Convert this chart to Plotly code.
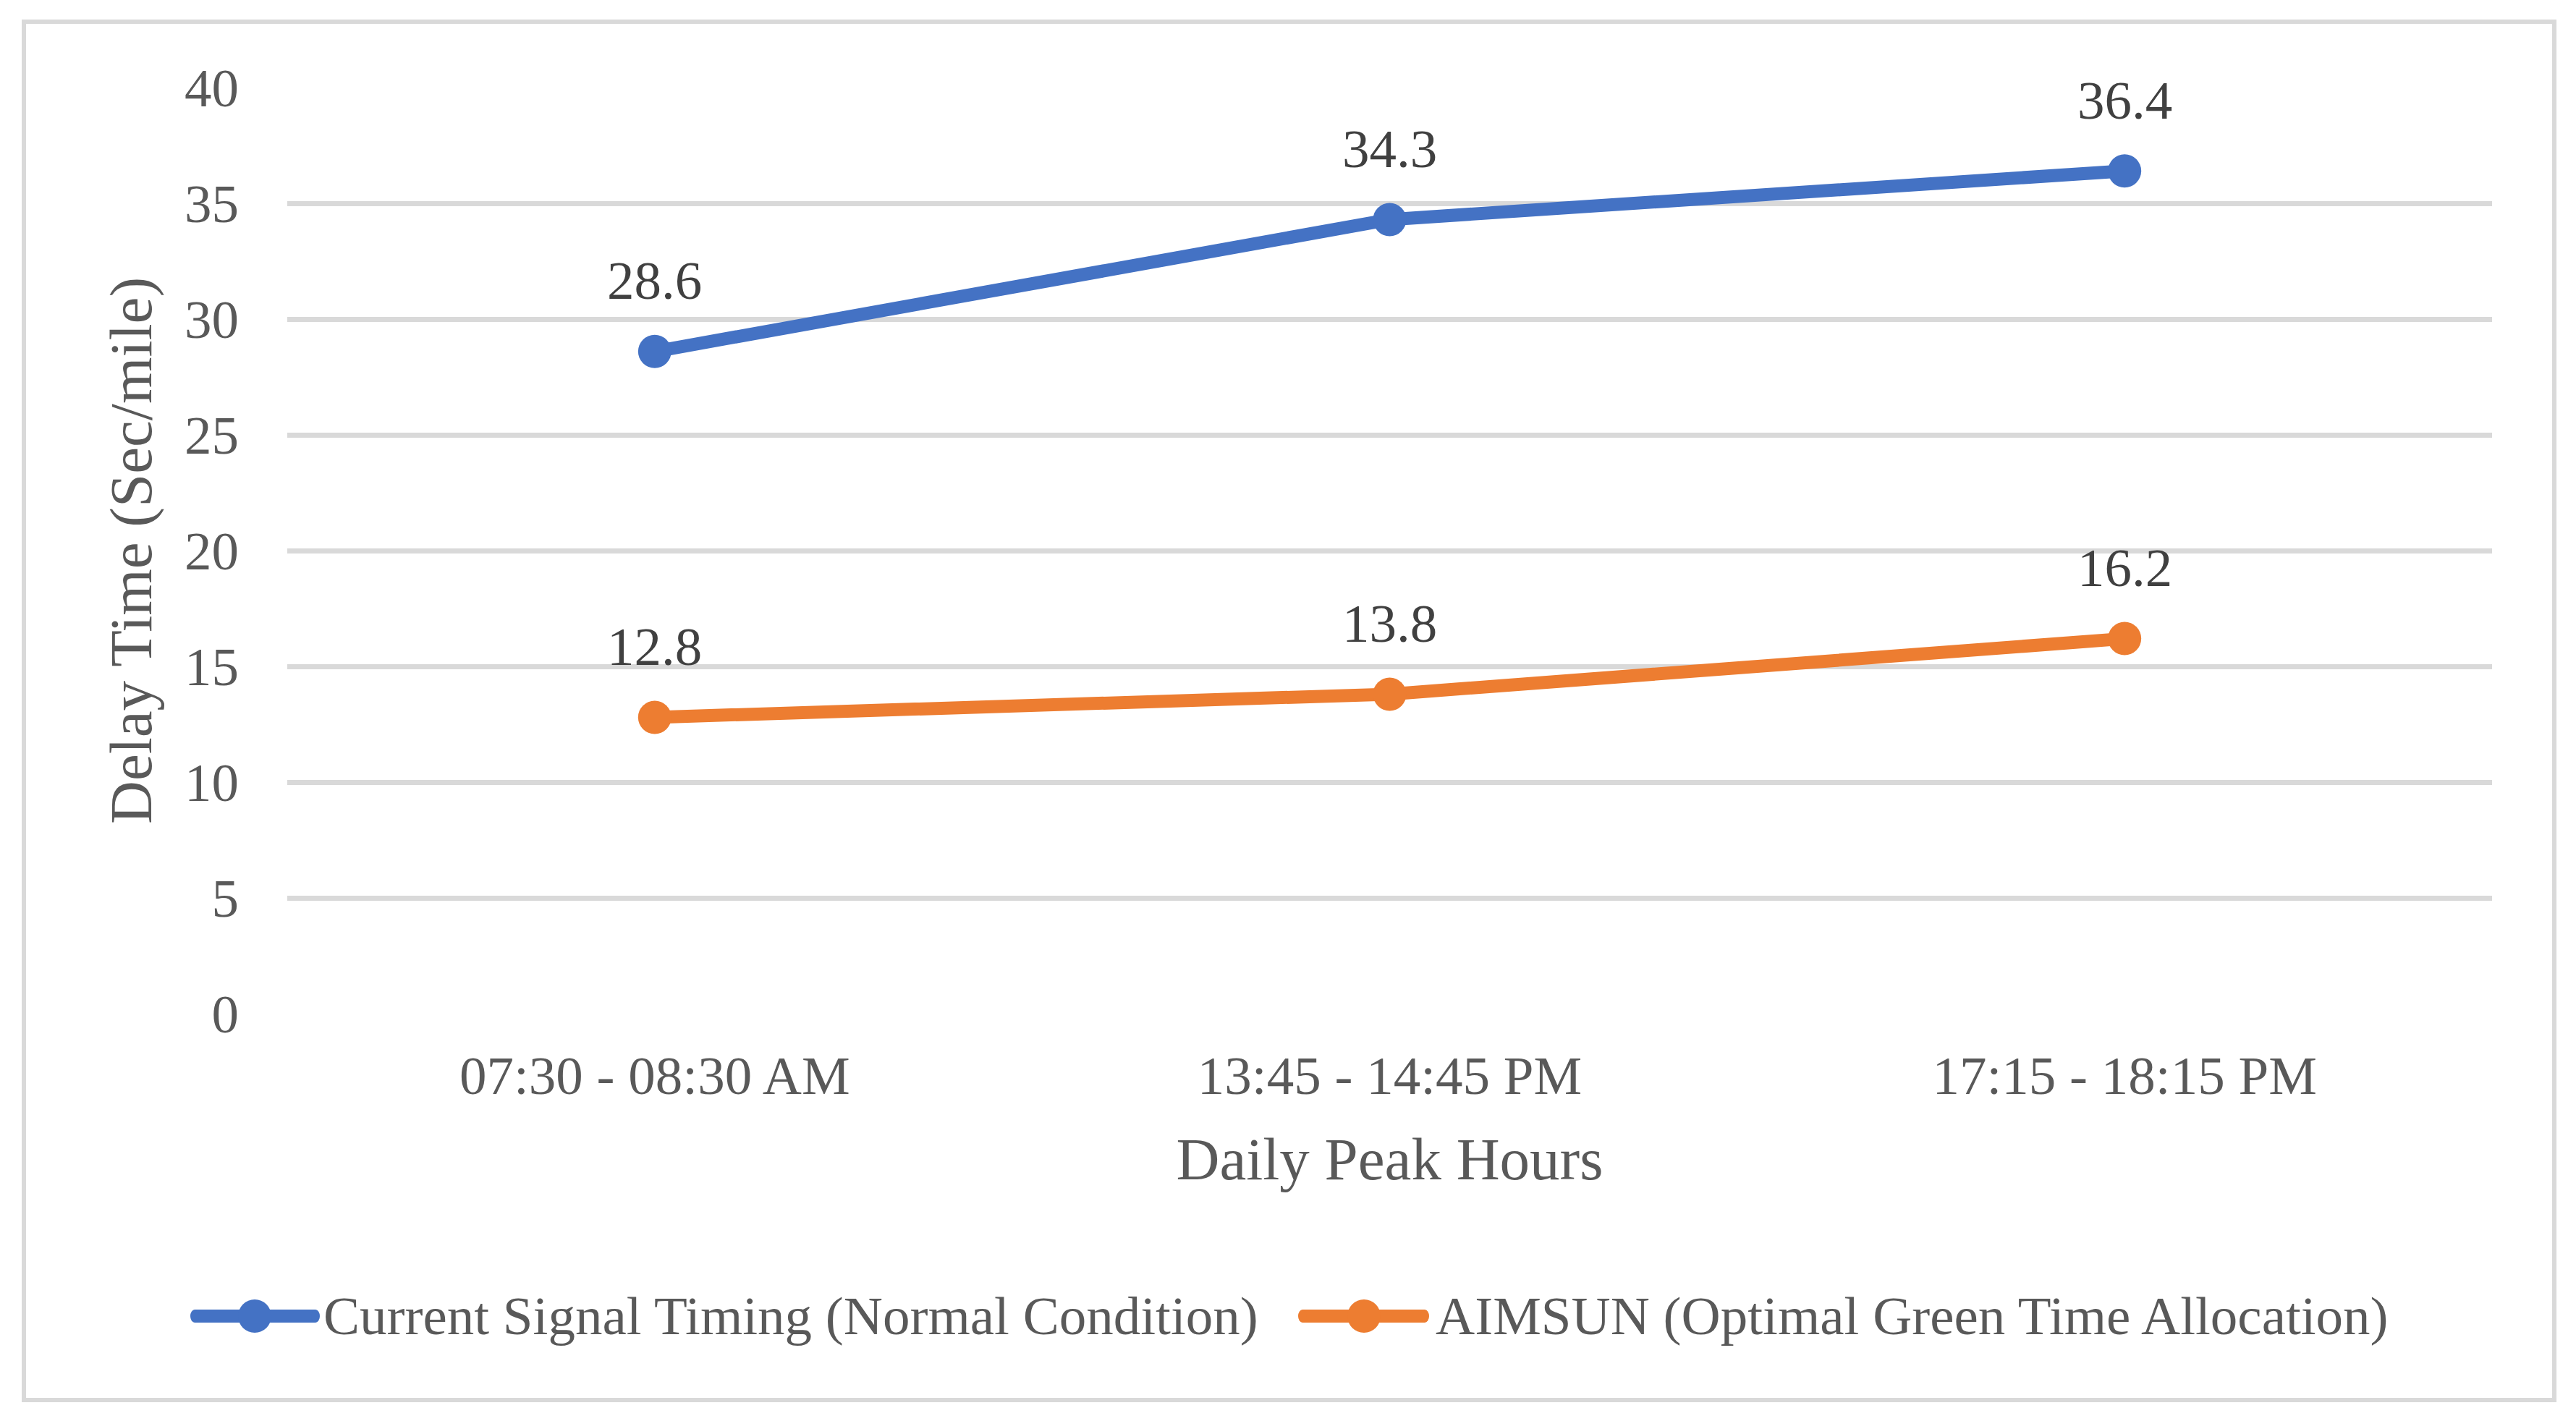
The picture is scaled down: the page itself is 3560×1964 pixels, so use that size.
import plotly.graph_objects as go

categories = ["07:30 - 08:30 AM", "13:45 - 14:45 PM", "17:15 - 18:15 PM"]
series_names = ["Current Signal Timing (Normal Condition)", "AIMSUN (Optimal Green Time Allocation)"]
current_values = [28.6, 34.3, 36.4]
aimsun_values = [12.8, 13.8, 16.2]
y_ticks = [0, 5, 10, 15, 20, 25, 30, 35, 40]

colors = ["#4472C4", "#ED7D31"]
FONT = "Liberation Serif, Times New Roman, serif"
W, H = 3560, 1964
L, R, T, B = 397, 3444, 121, 1401


def xp(px):
    return (px - L) / (R - L)


def yp(py):
    return (B - py) / (B - T)


fig = go.Figure()
all_values = [current_values, aimsun_values]
for name, vals, col in zip(series_names, all_values, colors):
    fig.add_trace(go.Scatter(
        x=categories, y=vals, name=name, mode="lines+markers",
        line=dict(color=col, width=18),
        marker=dict(color=col, size=46),
        showlegend=False, cliponaxis=False,
    ))

annotations = []
for vals in all_values:
    for c, v in zip(categories, vals):
        annotations.append(dict(
            x=c, y=v, xref="x", yref="y", text=f"{v:.1f}", showarrow=False,
            yanchor="middle", xanchor="center", yshift=98,
            font=dict(family=FONT, size=75, color="#404040"),
        ))

# custom legend
shapes = [dict(type="rect", xref="paper", yref="paper",
               x0=xp(33), x1=xp(3530), y0=yp(1935), y1=yp(30),
               line=dict(color="#d9d9d9", width=6), fillcolor="rgba(0,0,0,0)",
               layer="below")]
legend_items = [(263, 442, 352, 445), (1794, 1975, 1885, 1982)]
ly = 1819
for (x0, x1, xc, xt), name, col in zip(legend_items, series_names, colors):
    shapes.append(dict(type="line", xref="paper", yref="paper",
                       x0=xp(x0 + 6), x1=xp(x1 - 6), y0=yp(ly), y1=yp(ly),
                       line=dict(color=col, width=18)))
    shapes.append(dict(type="circle", xref="paper", yref="paper",
                       x0=xp(x0), x1=xp(x0 + 12), y0=yp(ly + 9), y1=yp(ly - 9),
                       line=dict(width=0), fillcolor=col))
    shapes.append(dict(type="circle", xref="paper", yref="paper",
                       x0=xp(x1 - 12), x1=xp(x1), y0=yp(ly + 9), y1=yp(ly - 9),
                       line=dict(width=0), fillcolor=col))
    shapes.append(dict(type="circle", xref="paper", yref="paper",
                       x0=xp(xc - 23), x1=xp(xc + 23), y0=yp(ly + 23), y1=yp(ly - 23),
                       line=dict(width=0), fillcolor=col))
    annotations.append(dict(
        x=xp(xt), y=yp(1818), xref="paper", yref="paper", text=name,
        showarrow=False, xanchor="left", yanchor="middle",
        font=dict(family=FONT, size=75, color="#595959"),
    ))

fig.update_layout(
    width=W, height=H,
    margin=dict(l=L, r=W - R, t=T, b=H - B, autoexpand=False),
    paper_bgcolor="white", plot_bgcolor="white",
    font=dict(family=FONT, size=75, color="#595959"),
    showlegend=False,
    annotations=annotations,
    shapes=shapes,
    xaxis=dict(
        type="category", range=[-0.5, 2.5], showgrid=False, zeroline=False,
        showline=False, ticks="outside", ticklen=20, tickcolor="rgba(0,0,0,0)",
        tickfont=dict(family=FONT, size=75, color="#595959"),
        title=dict(text="Daily Peak Hours", standoff=44,
                   font=dict(family=FONT, size=83, color="#595959")),
        automargin=False,
    ),
    yaxis=dict(
        range=[0, 40], tickvals=y_ticks, showgrid=True, gridcolor="#d9d9d9",
        gridwidth=7, zeroline=False, showline=False,
        ticks="outside", ticklen=51, tickcolor="rgba(0,0,0,0)",
        tickfont=dict(family=FONT, size=75, color="#595959"),
        title=dict(text="Delay Time (Sec/mile)", standoff=17,
                   font=dict(family=FONT, size=83, color="#595959")),
        automargin=False,
    ),
)

fig.write_html("out.html", config={"displayModeBar": False},
               post_script="document.body.style.margin='0';")
